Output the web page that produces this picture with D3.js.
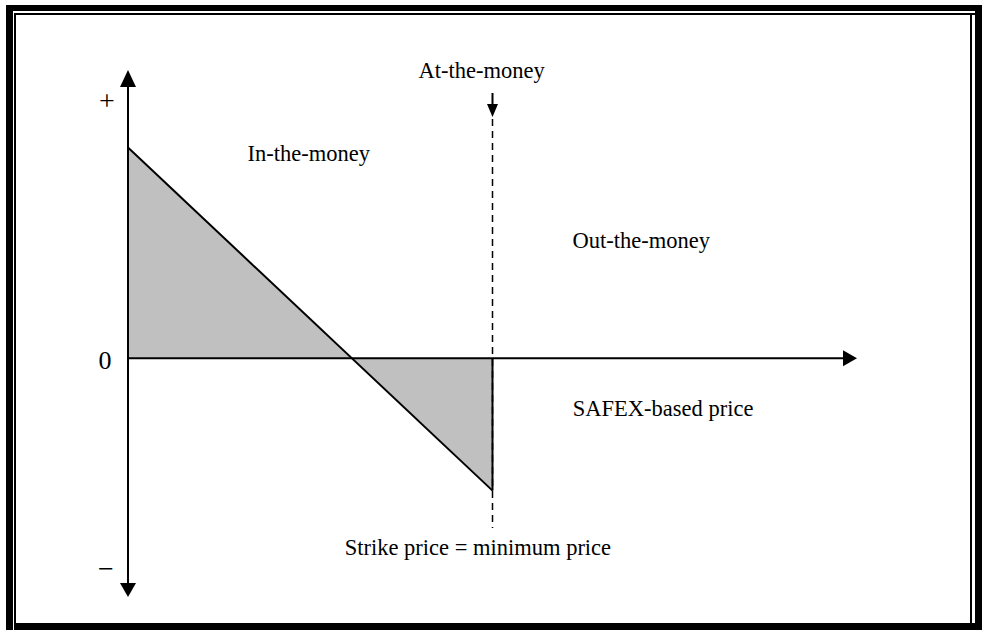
<!DOCTYPE html>
<html>
<head>
<meta charset="utf-8">
<script src="https://cdn.jsdelivr.net/npm/d3@7"></script>
<style>
  body { margin: 0; background: white; }
  text { font-family: "Liberation Serif", "Times New Roman", serif; fill: black; }
</style>
</head>
<body>
<div id="content"></div>
<script>
// payoff data (price units, payoff units)
var prices = [0, 50];
var payoff = [21.2, -13.3];
var strike = 50;
var xDomain = [0, 100];
var yDomain = [-24, 29];

// text labels, placed in data units
var labelText = ["In-the-money", "Out-the-money", "SAFEX-based price", "Strike price = minimum price", "At-the-money"];
var labelPrice = [24.8, 70.4, 73.4, 48.0, 48.5];
var labelPayoff = [19.8, 11.1, -5.8, -19.8, 28.2];

var W = 982, H = 630;
var svg = d3.select("#content").append("svg").attr("width", W).attr("height", H);

var x = d3.scaleLinear().domain(xDomain).range([128, 857]);
var y = d3.scaleLinear().domain(yDomain).range([597, 70]);

// frame
svg.append("rect").attr("x", 6).attr("y", 5).attr("width", 7).attr("height", 625).attr("fill", "black");
svg.append("rect").attr("x", 6).attr("y", 5).attr("width", 976).attr("height", 6).attr("fill", "black");
svg.append("rect").attr("x", 14).attr("y", 13).attr("width", 2).attr("height", 617).attr("fill", "black");
svg.append("rect").attr("x", 14).attr("y", 13).attr("width", 968).attr("height", 2).attr("fill", "black");
svg.append("rect").attr("x", 14).attr("y", 623).attr("width", 968).attr("height", 7).attr("fill", "black");
svg.append("rect").attr("x", 970).attr("y", 13).attr("width", 2).attr("height", 617).attr("fill", "black");
svg.append("rect").attr("x", 975).attr("y", 5).attr("width", 7).attr("height", 625).attr("fill", "black");

// shaded payoff area
var area = d3.area()
  .x(function(d, i) { return x(prices[i]); })
  .y0(y(0))
  .y1(function(d) { return y(d); });
svg.append("path").datum(payoff).attr("d", area).attr("fill", "#c0c0c0").attr("stroke", "none");

// axes
svg.append("line").attr("x1", x(0)).attr("x2", x(0)).attr("y1", y(yDomain[1]) + 14).attr("y2", y(yDomain[0]) - 12)
  .attr("stroke", "black").attr("stroke-width", 2);
svg.append("line").attr("x1", x(0)).attr("x2", x(xDomain[1]) - 12).attr("y1", y(0)).attr("y2", y(0))
  .attr("stroke", "black").attr("stroke-width", 2);

function arrow(px, py, dir, len, half) {
  var pts;
  if (dir == "up") pts = [[px, py], [px - half, py + len], [px + half, py + len]];
  if (dir == "down") pts = [[px, py], [px - half, py - len], [px + half, py - len]];
  if (dir == "right") pts = [[px, py], [px - len, py - half], [px - len, py + half]];
  svg.append("path").attr("d", d3.line()(pts) + "Z").attr("fill", "black");
}
arrow(x(0), y(yDomain[1]), "up", 17, 8);
arrow(x(0), y(yDomain[0]), "down", 14, 8);
arrow(x(xDomain[1]), y(0), "right", 14, 8);

// payoff line
svg.append("path").datum(payoff)
  .attr("d", d3.line().x(function(d, i) { return x(prices[i]); }).y(function(d) { return y(d); }))
  .attr("fill", "none").attr("stroke", "black").attr("stroke-width", 2);
svg.append("line").attr("x1", x(strike)).attr("x2", x(strike)).attr("y1", y(0)).attr("y2", y(payoff[1]))
  .attr("stroke", "black").attr("stroke-width", 2);

// at-the-money dashed line
svg.append("line").attr("x1", x(strike)).attr("x2", x(strike)).attr("y1", 119).attr("y2", 528)
  .attr("stroke", "black").attr("stroke-width", 1.5).attr("stroke-dasharray", "7,5");
svg.append("line").attr("x1", x(strike)).attr("x2", x(strike)).attr("y1", 93).attr("y2", 106)
  .attr("stroke", "black").attr("stroke-width", 2);
arrow(x(strike), 117, "down", 13, 5.5);

// axis signs
svg.append("text").attr("x", 107).attr("y", 110).attr("text-anchor", "middle").style("font-size", "28px").text("+");
svg.append("text").attr("x", 105).attr("y", 369).attr("text-anchor", "middle").style("font-size", "26px").text("0");
svg.append("text").attr("x", 106).attr("y", 578).attr("text-anchor", "middle").style("font-size", "28px").text("\u2212");

// labels
svg.selectAll("text.label").data(labelText).enter().append("text")
  .attr("class", "label")
  .attr("x", function(d, i) { return x(labelPrice[i]); })
  .attr("y", function(d, i) { return y(labelPayoff[i]); })
  .attr("text-anchor", "middle")
  .style("font-size", "22.5px")
  .text(function(d) { return d; });
</script>
</body>
</html>
